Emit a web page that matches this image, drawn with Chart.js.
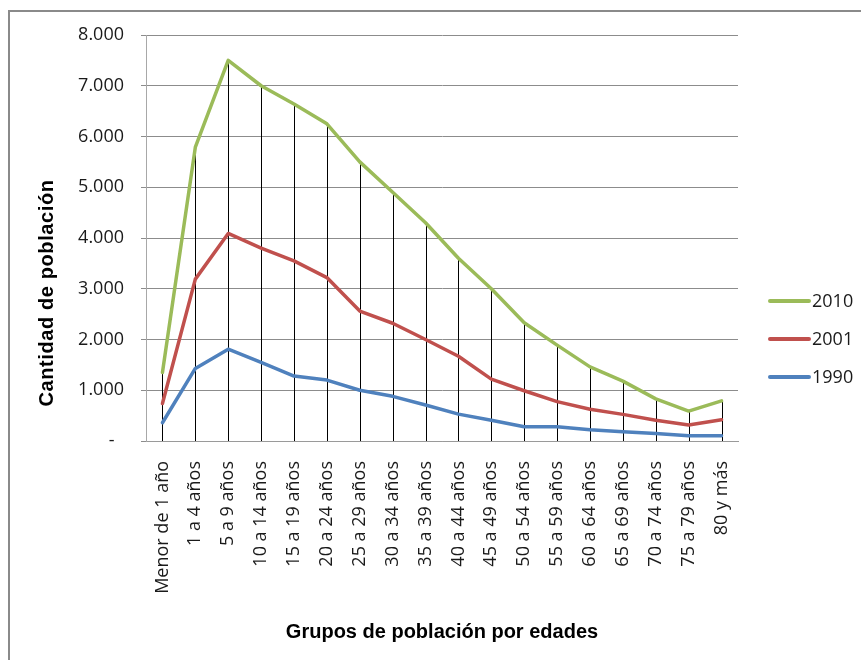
<!DOCTYPE html>
<html>
<head>
<meta charset="utf-8">
<script src="https://cdn.jsdelivr.net/npm/chart.js@4.4.1/dist/chart.umd.min.js"></script>
<style>
  html, body { margin: 0; padding: 0; background: #fff; }
  #wrap { width: 861px; height: 660px; position: relative; }
</style>
</head>
<body>
<div id="wrap"><canvas id="grafico" width="861" height="660"></canvas></div>
<script>
// Datos del gráfico
const categorias = ['Menor de 1 año', '1 a 4 años', '5 a 9 años', '10 a 14 años', '15 a 19 años',
  '20 a 24 años', '25 a 29 años', '30 a 34 años', '35 a 39 años', '40 a 44 años', '45 a 49 años',
  '50 a 54 años', '55 a 59 años', '60 a 64 años', '65 a 69 años', '70 a 74 años', '75 a 79 años', '80 y más'];
const serie2010 = [1350, 5790, 7500, 7000, 6640, 6250, 5500, 4900, 4300, 3600, 3000, 2330, 1890, 1460, 1180, 830, 590, 790];
const serie2001 = [740, 3190, 4090, 3800, 3550, 3220, 2560, 2320, 2000, 1670, 1220, 990, 775, 625, 525, 410, 315, 420];
const serie1990 = [360, 1430, 1810, 1550, 1280, 1200, 1000, 880, 710, 530, 410, 280, 280, 220, 180, 150, 105, 105];
const nombresSeries = ['2010', '2001', '1990'];
const tituloY = 'Cantidad de población';
const tituloX = 'Grupos de población por edades';

const fuente = '"Open Sans", "DejaVu Sans", sans-serif';

// Formato de miles con punto, cero como guion
const formatoMiles = (v) => {
  if (v === 0) return '-  ';
  return String(v).replace(/\B(?=(\d{3})+(?!\d))/g, '.');
};

// Marco gris alrededor del gráfico
const marco = {
  id: 'marco',
  beforeDraw(chart) {
    const ctx = chart.ctx;
    ctx.save();
    ctx.strokeStyle = '#8a8a8a';
    ctx.lineWidth = 2;
    ctx.strokeRect(9, 11, 1000, 1000);
    ctx.restore();
  }
};

// Líneas de proyección desde el valor más alto hasta el eje
const lineasProyeccion = {
  id: 'lineasProyeccion',
  beforeDatasetsDraw(chart) {
    const ctx = chart.ctx;
    const x = chart.scales.x;
    const y = chart.scales.y;
    ctx.save();
    ctx.strokeStyle = '#000';
    ctx.lineWidth = 1;
    categorias.forEach((c, i) => {
      const maximo = Math.max(...chart.data.datasets.map(d => d.data[i]));
      const px = Math.round(x.getPixelForValue(i)) + 0.5;
      ctx.beginPath();
      ctx.moveTo(px, y.getPixelForValue(maximo));
      ctx.lineTo(px, y.getPixelForValue(0));
      ctx.stroke();
    });
    ctx.restore();
  }
};

// Títulos de ejes y leyenda
const titulosLeyenda = {
  id: 'titulosLeyenda',
  afterDraw(chart) {
    const ctx = chart.ctx;
    const area = chart.chartArea;
    ctx.save();
    ctx.fillStyle = '#000';
    ctx.font = 'bold 20px "Liberation Sans", Arial, sans-serif';
    ctx.textAlign = 'center';
    ctx.textBaseline = 'middle';
    ctx.fillText(tituloX, (area.left + area.right) / 2, 632);

    ctx.save();
    ctx.translate(47, 293);
    ctx.rotate(-Math.PI / 2);
    ctx.letterSpacing = '0.6px';
    ctx.fillText(tituloY, 0, 0);
    ctx.restore();

    // Leyenda
    ctx.font = '18px ' + fuente;
    ctx.textAlign = 'left';
    chart.data.datasets.forEach((d, i) => {
      const py = 301 + i * 38;
      ctx.strokeStyle = d.borderColor;
      ctx.lineWidth = 4;
      ctx.lineCap = 'round';
      ctx.beginPath();
      ctx.moveTo(770, py);
      ctx.lineTo(809, py);
      ctx.stroke();
      ctx.fillStyle = '#1a1a1a';
      ctx.fillText(d.label, 812, py + 1);
    });
    ctx.restore();
  }
};

new Chart(document.getElementById('grafico'), {
  type: 'line',
  data: {
    labels: categorias,
    datasets: [
      { label: nombresSeries[0], data: serie2010, borderColor: '#9bbb59' },
      { label: nombresSeries[1], data: serie2001, borderColor: '#c0504d' },
      { label: nombresSeries[2], data: serie1990, borderColor: '#4f81bd' },
    ],
  },
  options: {
    responsive: false,
    animation: false,
    layout: { padding: { left: 0, right: 123, top: 35, bottom: 0 } },
    elements: {
      line: { borderWidth: 3.5, tension: 0, fill: false, borderCapStyle: 'round', borderJoinStyle: 'round' },
      point: { radius: 0, hoverRadius: 0 },
    },
    plugins: {
      legend: { display: false },
      tooltip: { enabled: false },
    },
    scales: {
      x: {
        offset: true,
        grid: { display: false, drawTicks: false },
        border: { display: true, color: '#9a9a9a', width: 1 },
        ticks: {
          autoSkip: false,
          minRotation: 90,
          maxRotation: 90,
          padding: 20,
          color: '#1a1a1a',
          font: { family: fuente, size: 18 },
        },
        afterFit(scale) { scale.height = 219; },
      },
      y: {
        min: 0,
        max: 8000,
        grid: { color: '#8c8c8c', lineWidth: 1, tickLength: 5 },
        border: { display: true, color: '#a8a8a8', width: 1 },
        ticks: {
          stepSize: 1000,
          padding: 17,
          color: '#1a1a1a',
          font: { family: fuente, size: 18 },
          callback: (v) => formatoMiles(v),
        },
        afterFit(scale) { scale.width = 146; },
      },
    },
  },
  plugins: [marco, lineasProyeccion, titulosLeyenda],
});
</script>
</body>
</html>
